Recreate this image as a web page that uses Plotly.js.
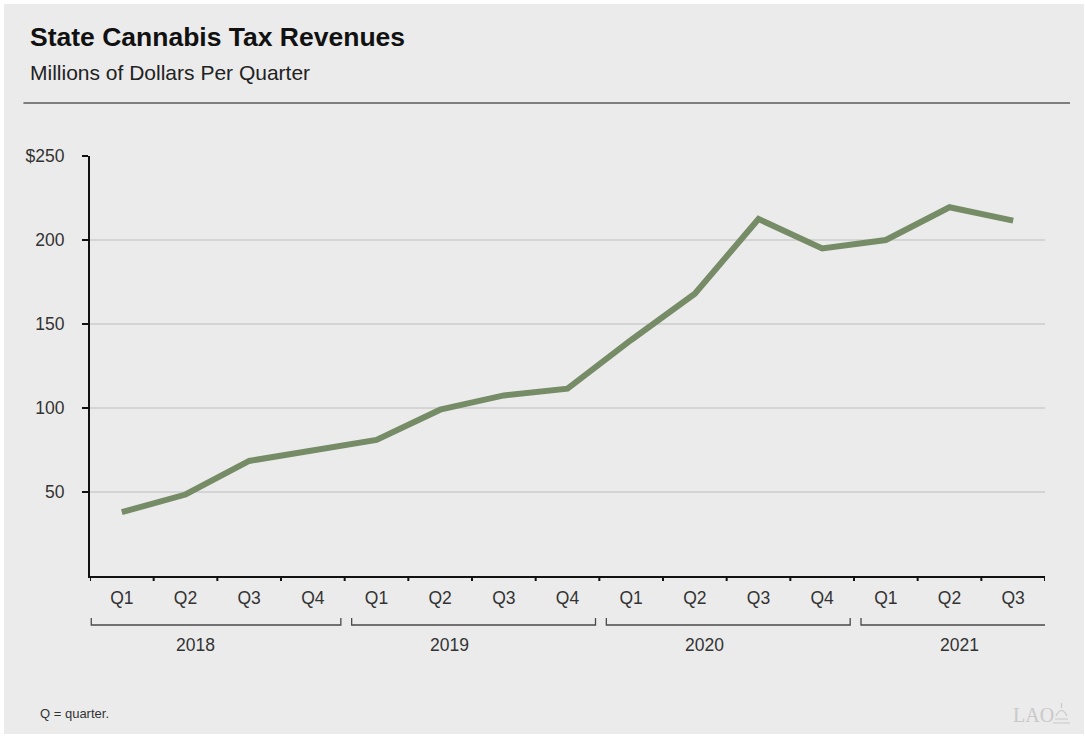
<!DOCTYPE html>
<html>
<head>
<meta charset="utf-8">
<script src="https://cdn.plot.ly/plotly-3.0.1.min.js"></script>
<style>
  html, body { margin: 0; padding: 0; background: #ffffff; }
  #chart { position: absolute; left: 4px; top: 4px; width: 1080px; height: 730px; }
</style>
</head>
<body>
<div id="chart"></div>
<script>
// ---- Data ----
const quarters = ["Q1","Q2","Q3","Q4","Q1","Q2","Q3","Q4","Q1","Q2","Q3","Q4","Q1","Q2","Q3"];
const years = ["2018","2018","2018","2018","2019","2019","2019","2019","2020","2020","2020","2020","2021","2021","2021"];
const revenue = [38, 48.5, 68.5, 75, 81, 99, 107.5, 111.5, 140.5, 168, 212.5, 195, 200, 219.5, 211.5];
const yTickVals = [50, 100, 150, 200, 250];
const yTickText = ["50", "100", "150", "200", "$250"];
const titleText = "State Cannabis Tax Revenues";
const subtitleText = "Millions of Dollars Per Quarter";
const noteText = "Q = quarter.";

// ---- Layout geometry (div coordinates) ----
const DIV_W = 1080, DIV_H = 730, OFF = 4;
const M = { l: 85.6, r: 39, t: 152, b: 158 };
const PW = DIV_W - M.l - M.r, PH = DIV_H - M.t - M.b;
const px = (absx) => (absx - OFF - M.l) / PW;
const py = (absy) => (DIV_H - M.b - (absy - OFF)) / PH;
const FONT = "Liberation Sans, Arial, Helvetica, sans-serif";

const xKeys = quarters.map((q, i) => i);

// year groups
const groups = [];
years.forEach((y, i) => {
  const g = groups[groups.length - 1];
  if (g && g.year === y) g.end = i; else groups.push({ year: y, start: i, end: i });
});

const shapes = [];
const annotations = [];
const bY0 = py(618), bY1 = py(625);
groups.forEach((g, k) => {
  const x0 = k === 0 ? g.start - 0.48 : g.start - 0.5 + 0.11;
  const x1 = k === groups.length - 1 ? g.end + 0.53 : g.end + 0.5 - 0.06;
  shapes.push({
    type: "path", xref: "x", yref: "paper",
    path: `M ${x0},${bY0} L ${x0},${bY1} L ${x1},${bY1} L ${x1},${bY0}`,
    line: { color: "#4a4a4a", width: 1.3 }
  });
  annotations.push({
    xref: "x", yref: "paper", x: g.start + 1.15, y: py(645),
    xanchor: "center", yanchor: "middle", showarrow: false,
    text: g.year, font: { family: FONT, size: 17.5, color: "#333333" }
  });
});

// header rule
shapes.push({
  type: "line", xref: "paper", yref: "paper",
  x0: px(23), x1: px(1070), y0: py(103), y1: py(103),
  line: { color: "#5a5a5a", width: 1.6 }
});

annotations.push({
  xref: "paper", yref: "paper", x: px(28), y: py(37), xanchor: "left", yanchor: "middle",
  showarrow: false, text: "<b>" + titleText + "</b>",
  font: { family: FONT, size: 26.5, color: "#111111" }
});
annotations.push({
  xref: "paper", yref: "paper", x: px(28), y: py(72), xanchor: "left", yanchor: "middle",
  showarrow: false, text: subtitleText,
  font: { family: FONT, size: 21, color: "#222222" }
});
annotations.push({
  xref: "paper", yref: "paper", x: px(38), y: py(713), xanchor: "left", yanchor: "middle",
  showarrow: false, text: noteText,
  font: { family: FONT, size: 13, color: "#333333" }
});
annotations.push({
  xref: "paper", yref: "paper", x: px(1011), y: py(715), xanchor: "left", yanchor: "middle",
  showarrow: false, text: "LAO",
  font: { family: "Liberation Serif, DejaVu Serif, serif", size: 20, color: "#c9c9c9" }
});
// small capitol-like mark next to LAO
shapes.push({
  type: "path", xref: "paper", yref: "paper",
  path: `M ${px(1053)},${py(723)} L ${px(1070)},${py(723)} M ${px(1055)},${py(719)} L ${px(1068)},${py(719)} M ${px(1056)},${py(716)} Q ${px(1061.5)},${py(705)} ${px(1067)},${py(716)} M ${px(1061.5)},${py(708)} L ${px(1061.5)},${py(703)}`,
  line: { color: "#c9c9c9", width: 1.2 }
});

const trace = {
  type: "scatter", mode: "lines",
  x: xKeys, y: revenue,
  line: { color: "#768c67", width: 6, shape: "linear" },
  hoverinfo: "skip"
};

const layout = {
  width: DIV_W, height: DIV_H,
  margin: M,
  paper_bgcolor: "#ebebeb", plot_bgcolor: "#ebebeb",
  showlegend: false,
  font: { family: FONT, color: "#333333" },
  xaxis: {
    type: "linear", range: [-0.5, quarters.length - 0.5],
    tickmode: "array", tickvals: xKeys, ticktext: quarters,
    showgrid: false, zeroline: false,
    showline: true, linecolor: "#111111", linewidth: 2,
    ticks: "", tickfont: { family: FONT, size: 17.5, color: "#333333" },
    ticklabelstandoff: 5,
    fixedrange: true
  },
  yaxis: {
    range: [0, 250], tickmode: "array", tickvals: yTickVals, ticktext: yTickText,
    showgrid: true, gridcolor: "#d4d4d4", gridwidth: 1.5,
    zeroline: false, showline: true, linecolor: "#111111", linewidth: 2,
    ticks: "outside", ticklen: 6, tickwidth: 2, tickcolor: "#111111",
    tickfont: { family: FONT, size: 17.5, color: "#333333" },
    ticklabelstandoff: 14,
    fixedrange: true
  },
  shapes: shapes,
  annotations: annotations
};

// x-axis boundary ticks at category boundaries
for (let i = 0; i <= quarters.length; i++) {
  shapes.push({
    type: "line", xref: "x", yref: "paper",
    x0: i - 0.5, x1: i - 0.5, y0: 0, y1: -5 / PH,
    line: { color: "#111111", width: 2 }
  });
}

Plotly.newPlot("chart", [trace], layout, { displayModeBar: false, staticPlot: true });
</script>
</body>
</html>
